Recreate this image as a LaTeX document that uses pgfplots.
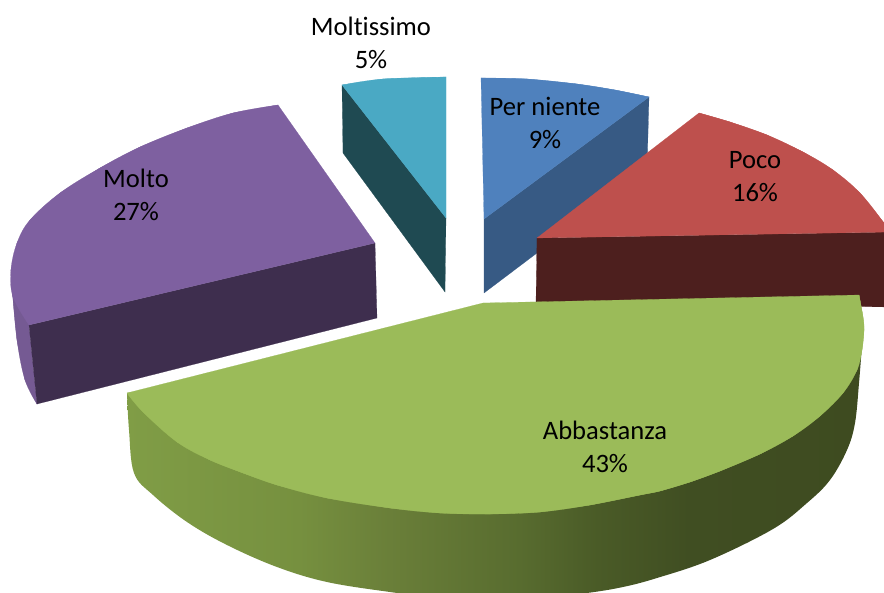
\documentclass[border=0pt]{standalone}
\usepackage{pgfplots}
\pgfplotsset{compat=1.18}
\usepackage{fontspec}
\setmainfont[Ligatures=NoCommon]{Carlito}
\definecolor{bluetop}{HTML}{4F81BD}
\definecolor{blueside}{HTML}{375A84}
\definecolor{cyantop}{HTML}{4AA9C4}
\definecolor{cyanside}{HTML}{1F4A52}
\definecolor{purptop}{HTML}{7E60A0}
\definecolor{purpside}{HTML}{3E2E4E}
\definecolor{purpout}{HTML}{755A93}
\definecolor{redtop}{HTML}{BE504D}
\definecolor{redside}{HTML}{4D1F1E}
\definecolor{greentop}{HTML}{9BBB59}
\definecolor{gA}{HTML}{809D46}
\definecolor{gB}{HTML}{76903F}
\definecolor{gC}{HTML}{6A7F39}
\definecolor{gD}{HTML}{586C2F}
\definecolor{gE}{HTML}{4A5B27}
\definecolor{gF}{HTML}{404E22}
\definecolor{gG}{HTML}{3E4B20}
\pgfdeclarehorizontalshading{greenside}{100bp}{color(0bp)=(gA); color(25bp)=(gA); color(36.7bp)=(gB); color(42.8bp)=(gC); color(51.7bp)=(gD); color(57bp)=(gE); color(63.2bp)=(gF); color(75bp)=(gG); color(100bp)=(gG)}
\pgfplotsset{
  poly/.style={fill=#1,draw=#1,line width=0.2pt},
  cap/.style={fill=#1,draw=#1,line width=0.2pt,smooth,tension=0.6}}
\tikzset{lab/.style={align=center,text=black,font=\fontsize{26.7}{33.2}\selectfont}}
\begin{document}
\begin{tikzpicture}
\useasboundingbox (0,0) rectangle (884bp,593bp);
\begin{axis}[at={(0,0)},anchor=south west,hide axis,scale only axis,width=884bp,height=593bp,
  xmin=0,xmax=884,ymin=0,ymax=593,y dir=reverse,clip=true]
% blue
\addplot[poly=blueside] coordinates {(649,97)(647,170)(484,293)(484,219)(649,97)};
\addplot[poly=bluetop] coordinates {(484,219)(481,78)(527,79)(577,84)(615,90)(649,97)(484,219)};
\addplot[cap=bluetop] coordinates {(481,78)(527,79)(577,84)(615,90)(649,97)};
% cyan
\addplot[poly=cyanside] coordinates {(342,85)(446,218)(445,292)(343,153)(342,85)};
\addplot[poly=cyantop] coordinates {(446,218)(342,85)(383,79)(446,77)(446,218)};
\addplot[cap=cyantop] coordinates {(342,85)(383,79)(446,77)};
% purple
\addplot[poly=purpout] coordinates {(29,325)(11,270)(12,287)(17,340)(25,380)(37,404)(29,325)};
\addplot[cap=purpout] coordinates {(11,270)(12,287)(17,340)(25,380)(37,404)};
\addplot[poly=purpside] coordinates {(29,325)(375,243)(377,318)(37,404)(29,325)};
\addplot[poly=purptop] coordinates {(375,243)(278,105)(233,113)(187,128)(140,147)(100,168)(60,193)(30,220)(17,243)(11,270)(13,297)(29,325)(375,243)};
\addplot[cap=purptop] coordinates {(278,105)(233,113)(187,128)(140,147)(100,168)(60,193)(30,220)(17,243)(11,270)(13,297)(29,325)};
% red
\addplot[poly=redside] coordinates {(537,238)(890,232)(890,307)(536,302)(537,238)};
\addplot[poly=redtop] coordinates {(537,238)(699,113)(730,122)(767,135)(803,152)(833,170)(860,193)(884,223)(890,232)(537,238)};
\addplot[cap=redtop] coordinates {(699,113)(730,122)(767,135)(803,152)(833,170)(860,193)(884,223)(890,232)};
% green
\addplot[draw=none,shading=greenside,smooth,tension=0.6] coordinates {(127,393)(129,430)(134,473)(153,495)(187,522)(227,545)(277,567)(327,582)(390,592)(440,598)(490,600)(540,598)(587,593)(623,587)(657,578)(710,560)(773,529)(807,503)(830,480)(847,450)(855,423)(859,383)(862,345)};
\addplot[poly=greentop] coordinates {(483,303)(859,295)(863,317)(864,330)(862,350)(857,370)(843,393)(820,416)(793,436)(760,454)(720,471)(690,482)(660,491)(640,495)(590,505)(540,512)(490,514)(440,513)(390,508)(327,498)(277,485)(243,473)(210,460)(177,442)(143,412)(127,393)(483,303)};
\addplot[cap=greentop] coordinates {(859,295)(863,317)(864,330)(862,350)(857,370)(843,393)(820,416)(793,436)(760,454)(720,471)(690,482)(660,491)(640,495)(590,505)(540,512)(490,514)(440,513)(390,508)(327,498)(277,485)(243,473)(210,460)(177,442)(143,412)(127,393)};
% labels
\node[lab] at (axis cs:371,43) {Moltissimo\\5\%};
\node[lab] at (axis cs:545,123) {Per niente\\9\%};
\node[lab] at (axis cs:755,177) {Poco\\16\%};
\node[lab] at (axis cs:136,195) {Molto\\27\%};
\node[lab] at (axis cs:605,447) {Abbastanza\\43\%};
\end{axis}
\end{tikzpicture}
\end{document}
